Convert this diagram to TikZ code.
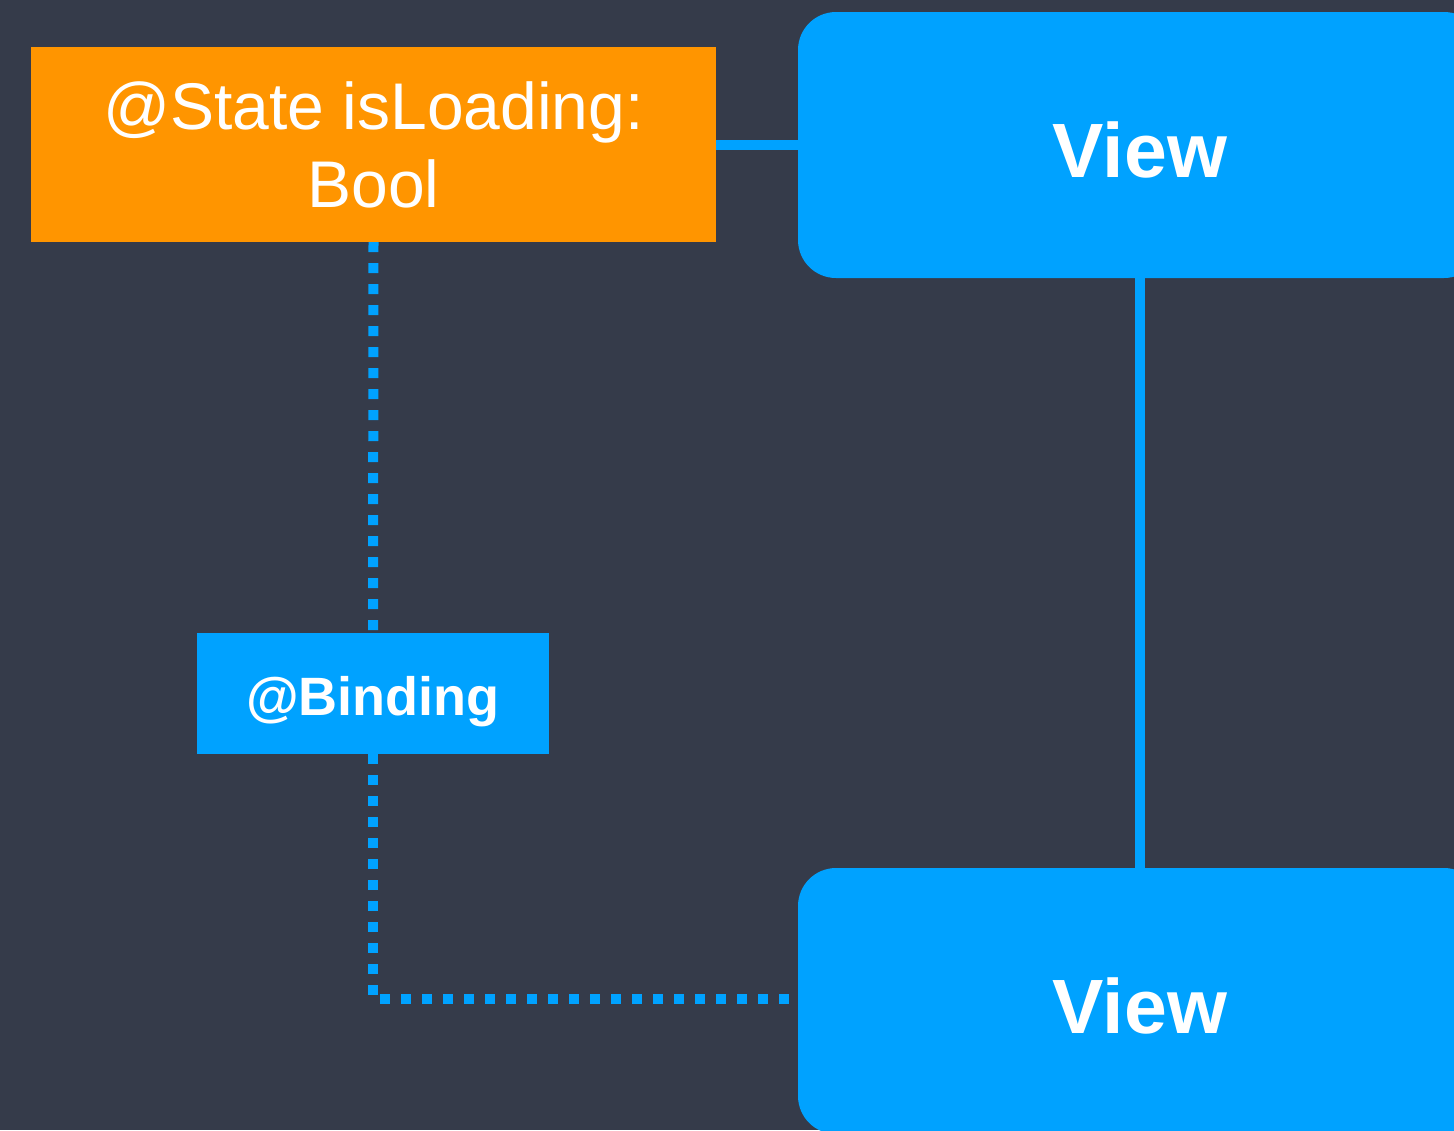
\documentclass[tikz,border=0pt]{standalone}
\usepackage{fontspec}
\setmainfont{Liberation Sans}
\definecolor{bgc}{HTML}{353B4A}
\definecolor{bluec}{HTML}{00A2FF}
\definecolor{orangec}{HTML}{FF9500}
\pgfdeclarelayer{canvas}
\pgfdeclarelayer{links}
\pgfsetlayers{canvas,links,main}
\begin{document}
\begin{tikzpicture}[x=1pt,y=-1pt,
  statebox/.style={rectangle,fill=orangec,draw=none,text=white,inner sep=0pt,
    minimum width=685pt,minimum height=195pt,align=center,
    font=\fontsize{66}{79}\selectfont},
  viewbox/.style={rectangle,rounded corners=38pt,fill=bluec,draw=none,text=white,
    inner sep=0pt,minimum width=684pt,minimum height=266pt,
    text height=64pt,text depth=0pt,
    font=\fontsize{77}{90}\selectfont\bfseries},
  bindbox/.style={rectangle,fill=bluec,draw=none,text=white,inner sep=0pt,
    minimum width=352pt,minimum height=121pt,
    text height=43pt,text depth=0pt,
    font=\fontsize{54}{64}\selectfont\bfseries},
  solidlink/.style={draw=bluec,line width=10pt},
  dotlink/.style={draw=bluec,line width=10pt,dash pattern=on 10pt off 11pt}
]
\useasboundingbox (0,0) rectangle (1454,1130);
\clip (0,0) rectangle (1454,1130);
\begin{pgfonlayer}{canvas}
\fill[bgc] (0,0) rectangle (1454,1130);
\end{pgfonlayer}

\node[statebox] (state) at (373.5,144.5) {@State isLoading:\\[-1pt]Bool};
\node[viewbox] (view1) at (1140,145) {View};
\node[viewbox] (view2) at (1140,1001) {View};
\node[bindbox] (bind) at (373,693.5) {@Binding};
\coordinate (corner) at (373,999);

\begin{pgfonlayer}{links}
\draw[solidlink] (state.east |- 0,145) -- (view1.west |- 0,145);
\draw[solidlink] (view1.south) -- (view2.north);
\draw[dotlink] (state.south) -- (bind.north);
\draw[dotlink] (bind.south) -- (corner) -- (view2.west |- corner);
\end{pgfonlayer}
\end{tikzpicture}
\end{document}
